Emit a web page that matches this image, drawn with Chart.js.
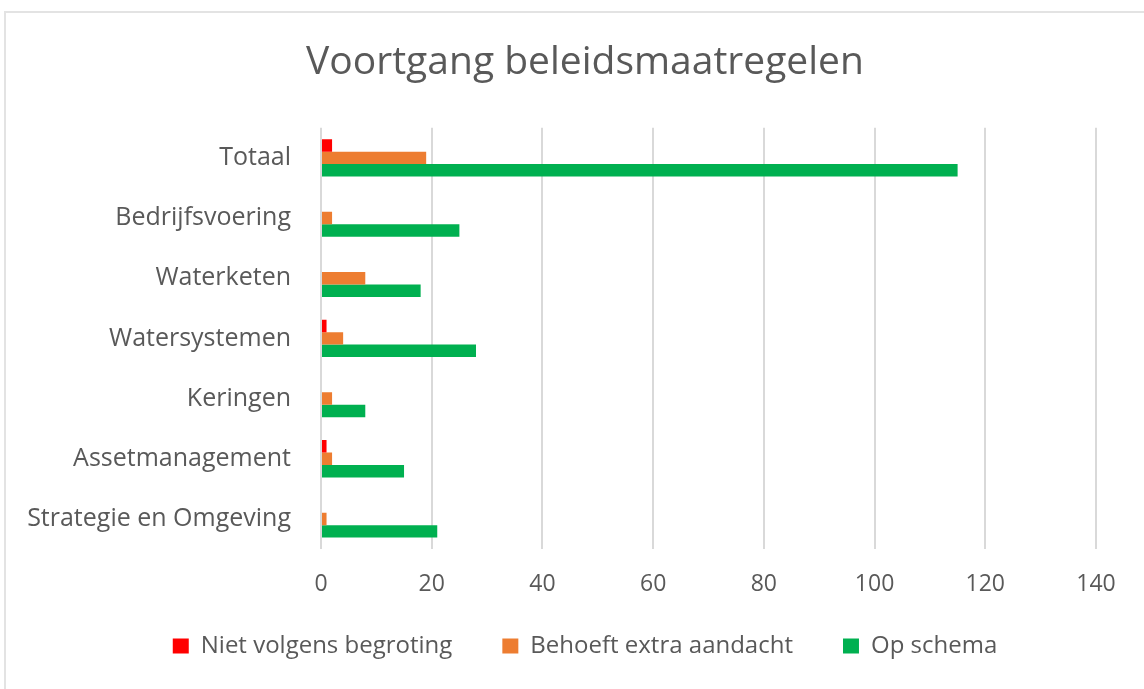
<!DOCTYPE html>
<html lang="nl">
<head>
  <meta charset="UTF-8" />
  <title>Voortgang beleidsmaatregelen</title>
  <script src="https://cdn.jsdelivr.net/npm/chart.js"></script>
  <style>
    body {
      margin: 0;
      padding: 0;
      background-color: #fff;
      overflow: hidden;
    }
    .frame {
      position: absolute;
      left: 4px;
      top: 11px;
      width: 1200px;
      height: 720px;
      border: 2px solid #e3e3e3;
    }
    .wrap {
      position: absolute;
      left: 0;
      top: 0;
      width: 1144px;
      height: 689px;
    }
  </style>
</head>
<body>
  <div class="frame"></div>
  <div class="wrap">
    <canvas id="chart"></canvas>
  </div>

  <script>
    const categories = ['Totaal', 'Bedrijfsvoering', 'Waterketen', 'Watersystemen', 'Keringen', 'Assetmanagement', 'Strategie en Omgeving'];
    const nietVolgensBegroting = [2, 0, 0, 1, 0, 1, 0];
    const behoeftExtraAandacht = [19, 2, 8, 4, 2, 2, 1];
    const opSchema = [115, 25, 18, 28, 8, 15, 21];
    const xTicks = [0, 20, 40, 60, 80, 100, 120, 140];

    const font = "'Open Sans', sans-serif";
    const textColor = '#595959';

    // title and legend in the original are centred on the whole frame, not on the plot
    const frameCentre = {
      id: 'frameCentre',
      afterLayout(chart) {
        if (chart.titleBlock) {
          chart.titleBlock.left = 0;
          chart.titleBlock.right = 1170;
        }
        if (chart.legend) {
          chart.legend.left = 0;
          chart.legend.right = 1170;
          chart.legend.top -= 17;
          chart.legend.bottom -= 17;
        }
      }
    };

    new Chart(document.getElementById('chart'), {
      type: 'bar',
      data: {
        labels: categories,
        datasets: [
          { label: 'Niet volgens begroting', data: nietVolgensBegroting, backgroundColor: '#ff0000' },
          { label: 'Behoeft extra aandacht', data: behoeftExtraAandacht, backgroundColor: '#ed7d31' },
          { label: 'Op schema', data: opSchema, backgroundColor: '#00b050' }
        ]
      },
      plugins: [frameCentre],
      options: {
        indexAxis: 'y',
        responsive: true,
        maintainAspectRatio: false,
        animation: false,
        datasets: {
          bar: { categoryPercentage: 0.62, barPercentage: 1 }
        },
        layout: {
          padding: { top: 10, left: 0, right: 48, bottom: 4 }
        },
        scales: {
          x: {
            min: 0,
            max: 140,
            afterBuildTicks: (scale) => {
              scale.ticks = xTicks.map(v => ({ value: v }));
            },
            afterFit: (scale) => { scale.height = 52; },
            grid: { color: '#d9d9d9', lineWidth: 2, drawTicks: false },
            border: { display: false },
            ticks: { color: textColor, font: { family: font, size: 23 }, padding: 22 }
          },
          y: {
            afterFit: (scale) => { scale.width = 321; },
            grid: { display: false },
            border: { display: false },
            ticks: { color: textColor, font: { family: font, size: 25 }, padding: 22 }
          }
        },
        plugins: {
          title: {
            display: true,
            text: 'Voortgang beleidsmaatregelen',
            color: textColor,
            font: { family: font, size: 39, weight: 'normal' },
            padding: { top: 29, bottom: 42 }
          },
          legend: {
            position: 'bottom',
            labels: {
              color: textColor,
              font: { family: font, size: 24 },
              boxWidth: 16,
              boxHeight: 15,
              padding: 50
            }
          },
          tooltip: { enabled: false }
        }
      }
    });
  </script>
</body>
</html>
